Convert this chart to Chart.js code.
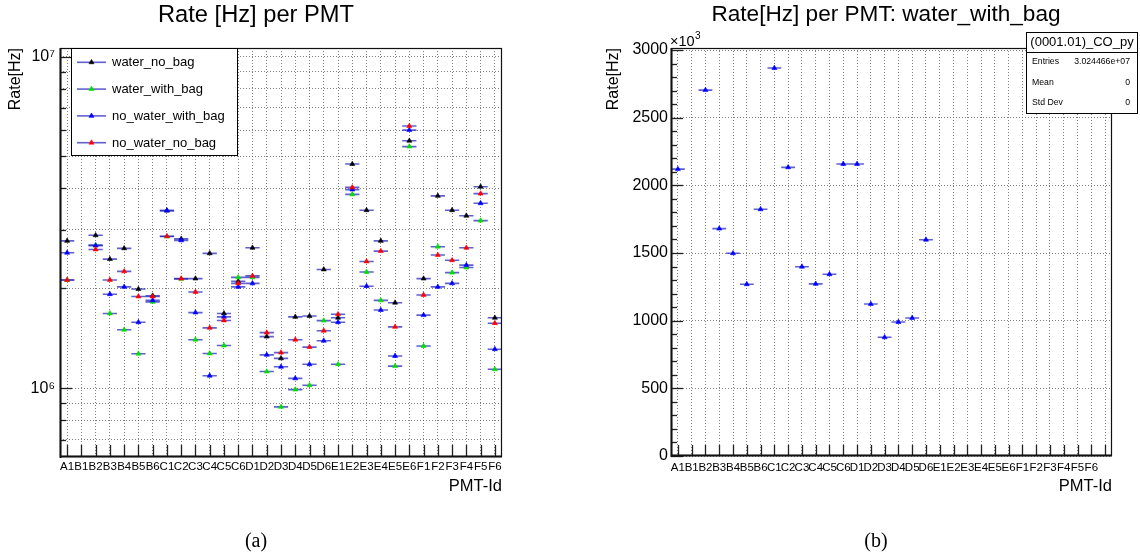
<!DOCTYPE html>
<html>
<head>
<meta charset="utf-8">
<title>Rate per PMT</title>
<script src="https://cdn.jsdelivr.net/npm/chart.js@4.4.1/dist/chart.umd.min.js"></script>
<style>
  html, body { margin: 0; padding: 0; background: #fff; }
  #page { position: relative; width: 1140px; height: 558px; overflow: hidden; font-family: "Liberation Sans", Arial, sans-serif; color: #000; }
  canvas { position: absolute; top: 0; }
  #cLeft { left: 0; }
  #cRight { left: 570px; }
  .title { position: absolute; top: 0; line-height: 28px; white-space: nowrap; transform: translateX(-50%); }
  .caption { position: absolute; top: 529px; font-family: "Liberation Serif", "Times New Roman", serif; font-size: 20px; transform: translateX(-50%); }
</style>
</head>
<body>
<div id="page">
  <canvas id="cLeft" width="570" height="558"></canvas>
  <canvas id="cRight" width="570" height="558"></canvas>
  <div class="title" style="left:256px;font-size:23.7px">Rate [Hz] per PMT</div>
  <div class="title" style="left:886px;font-size:22.6px">Rate[Hz] per PMT: water_with_bag</div>
  <div class="caption" style="left:256px">(a)</div>
  <div class="caption" style="left:876px">(b)</div>
</div>
<script>
const pmtLabels = ["A1","B1","B2","B3","B4","B5","B6","C1","C2","C3","C4","C5","C6",
                   "D1","D2","D3","D4","D5","D6","E1","E2","E3","E4","E5","E6",
                   "F1","F2","F3","F4","F5","F6"];

// rates in Hz, one entry per PMT (B1 has no reading)
const waterNoBag     = [2.78e6, null, 2.89e6, 2.45e6, 2.64e6, 1.99e6, 1.90e6,
                        3.43e6, 2.82e6, 2.14e6, 2.55e6, 1.68e6, 2.10e6,
                        2.65e6, 1.43e6, 1.23e6, 1.64e6, 1.65e6, 2.28e6,
                        1.63e6, 4.74e6, 3.44e6, 2.78e6, 1.81e6, 5.57e6,
                        2.14e6, 3.80e6, 3.44e6, 3.31e6, 4.05e6, 1.63e6];
const waterWithBag   = [2.12e6, null, 2.70e6, 1.68e6, 1.50e6, 1.27e6, 1.82e6,
                        2.865e6, 2.135e6, 1.40e6, 1.272e6, 1.345e6, 2.158e6,
                        2.158e6, 1.122e6, 0.878e6, 0.99e6, 1.02e6, 1.598e6,
                        1.18e6, 3.84e6, 2.24e6, 1.84e6, 1.165e6, 5.35e6,
                        1.34e6, 2.67e6, 2.23e6, 2.31e6, 3.20e6, 1.14e6];
const noWaterWithBag = [2.56e6, null, 2.69e6, 1.92e6, 2.02e6, 1.58e6, 1.84e6,
                        3.43e6, 2.79e6, 1.69e6, 1.09e6, 1.64e6, 2.02e6,
                        2.07e6, 1.26e6, 1.16e6, 1.07e6, 1.18e6, 1.39e6,
                        1.58e6, 3.97e6, 2.03e6, 1.72e6, 1.25e6, 6.00e6,
                        1.66e6, 2.02e6, 2.07e6, 2.35e6, 3.61e6, 1.31e6];
const noWaterNoBag   = [2.12e6, null, 2.62e6, 2.12e6, 2.25e6, 1.89e6, 1.89e6,
                        2.87e6, 2.14e6, 1.95e6, 1.52e6, 1.60e6, 2.07e6,
                        2.18e6, 1.47e6, 1.28e6, 1.40e6, 1.33e6, 1.49e6,
                        1.67e6, 4.03e6, 2.41e6, 2.59e6, 1.53e6, 6.17e6,
                        1.91e6, 2.52e6, 2.43e6, 2.65e6, 3.86e6, 1.57e6];

// panel (b): water_with_bag in units of 10^3 Hz, histogram has one extra empty bin
const bagLabels = pmtLabels.concat([""]);
const bagRate = [2120, null, 2704, 1680, 1498, 1269, 1823, 2867, 2133, 1399, 1272, 1343, 2158,
                 2158, 1123, 877, 990, 1020, 1598, null, null, null, null, null, null,
                 null, null, null, null, null, null, null];
const statsName = "(0001.01)_CO_py";
const statsRows = [["Entries", "3.024466e+07"], ["Mean", "0"], ["Std Dev", "0"]];

const series = [
  {label: "water_no_bag",      values: waterNoBag,     color: "#000000"},
  {label: "water_with_bag",    values: waterWithBag,   color: "#00dd00"},
  {label: "no_water_with_bag", values: noWaterWithBag, color: "#0000ff"},
  {label: "no_water_no_bag",   values: noWaterNoBag,   color: "#ff0000"}
];

const BAR = "rgba(35,35,190,0.72)";
const GRID = "rgba(80,80,80,0.72)";
Chart.defaults.font.family = '"Liberation Sans", Arial, Helvetica, sans-serif';
Chart.defaults.color = "#000";

function markerPoints(values){
    return values.flatMap((v, i) => v == null ? [] : [{x: i, y: v}]);
}
function barPoints(values){
    return values.flatMap((v, i) => v == null ? [] : [{x: i - 0.5, y: v}, {x: i + 0.5, y: v}, {x: i, y: null}]);
}
function seriesSets(list){
    let sets = [];
    list.forEach((s, k) => {
        sets.push({label: s.label + " bar", data: barPoints(s.values), showLine: true, spanGaps: false,
                   pointRadius: 0, borderColor: BAR, borderWidth: 1.6, order: 100 - 2 * k});
        sets.push({label: s.label, data: markerPoints(s.values), showLine: false, pointStyle: "triangle",
                   pointRadius: 2.9, backgroundColor: s.color, borderColor: s.color, borderWidth: 0.6,
                   order: 99 - 2 * k});
    });
    return sets;
}

function line(ctx, x1, y1, x2, y2){
    ctx.beginPath(); ctx.moveTo(x1, y1); ctx.lineTo(x2, y2); ctx.stroke();
}

// ROOT style frame, inner tick marks, legend / stats box
function makeDecor(cfg){
    return {
        id: "decor" + cfg.name,
        afterDraw(chart){
            const {ctx, chartArea: a, scales: {x, y}} = chart;
            ctx.save();
            ctx.strokeStyle = "#222";
            ctx.lineWidth = 1.3;
            x.ticks.forEach(t => {
                const px = Math.round(x.getPixelForValue(t.value)) + 0.5;
                line(ctx, px, a.bottom, px, a.bottom - cfg.xTick);
            });
            y.ticks.forEach(t => {
                const py = Math.round(y.getPixelForValue(t.value)) + 0.5;
                line(ctx, a.left, py, a.left + (cfg.isMajor(t.value) ? 12 : 6), py);
            });
            ctx.lineWidth = 1.2;
            ctx.strokeStyle = "#111";
            ctx.strokeRect(a.left + 0.5, a.top + 0.5, a.width - 1, a.height - 1);
            ctx.lineWidth = 2;
            line(ctx, a.left + 0.5, a.top, a.left + 0.5, a.bottom + 1);
            line(ctx, a.left, a.bottom - 0.5, a.right, a.bottom - 0.5);

            if (cfg.legend) {
                const lx = a.left + 11, ly = a.top, lw = 166, lh = 107;
                ctx.fillStyle = "#fff";
                ctx.fillRect(lx, ly, lw, lh);
                ctx.lineWidth = 1;
                ctx.strokeStyle = "#000";
                ctx.strokeRect(lx + 0.5, ly + 0.5, lw, lh);
                ctx.font = '13px "Liberation Sans", Arial, sans-serif';
                ctx.textBaseline = "middle";
                ctx.textAlign = "left";
                series.forEach((s, k) => {
                    const yy = ly + 14.3 + k * 26.8;
                    ctx.strokeStyle = BAR;
                    ctx.lineWidth = 1.6;
                    line(ctx, lx + 6, yy, lx + 35, yy);
                    ctx.fillStyle = s.color;
                    ctx.strokeStyle = s.color;
                    ctx.lineWidth = 0.6;
                    Chart.helpers.drawPoint(ctx, {pointStyle: "triangle", radius: 2.9, rotation: 0, borderWidth: 0.6}, lx + 20.5, yy);
                    ctx.fillStyle = "#000";
                    ctx.fillText(s.label, lx + 41, yy + 0.5);
                });
            }

            if (cfg.stats) {
                const bx = a.right - 86, by = a.top - 16, bw = 111, bh = 81;
                ctx.fillStyle = "#fff";
                ctx.fillRect(bx, by, bw, bh);
                ctx.strokeStyle = "#000";
                ctx.lineWidth = 1;
                ctx.strokeRect(bx + 0.5, by + 0.5, bw, bh);
                line(ctx, bx, by + 20.5, bx + bw, by + 20.5);
                ctx.fillStyle = "#000";
                ctx.textBaseline = "middle";
                ctx.textAlign = "center";
                ctx.font = '13px "Liberation Sans", Arial, sans-serif';
                ctx.fillText(statsName, bx + bw / 2 + 0.5, by + 10.5);
                ctx.font = '8.7px "Liberation Sans", Arial, sans-serif';
                statsRows.forEach((r, k) => {
                    const yy = by + 30 + k * 20.5;
                    ctx.textAlign = "left";
                    ctx.fillText(r[0], bx + 6, yy);
                    ctx.textAlign = "right";
                    ctx.fillText(r[1], bx + bw - 7, yy);
                });
            }

            if (cfg.exponent) {
                ctx.fillStyle = "#000";
                ctx.textAlign = "left";
                ctx.textBaseline = "alphabetic";
                ctx.font = '14.5px "Liberation Sans", Arial, sans-serif';
                ctx.fillText("\u00d710", a.left - 1, a.top - 2.5);
                const w = ctx.measureText("\u00d710").width;
                ctx.font = '10px "Liberation Sans", Arial, sans-serif';
                ctx.fillText(cfg.exponent, a.left - 1 + w + 0.5, a.top - 9.5);
            }
            ctx.restore();
        }
    };
}

function xScale(labels, height, pad){
    return {
        type: "linear", min: -0.5, max: labels.length - 0.5,
        afterBuildTicks: s => { s.ticks = labels.map((_, i) => ({value: i})); },
        afterFit: s => { s.height = height; s.paddingLeft = 0; s.paddingRight = 0; },
        ticks: {autoSkip: false, maxRotation: 0, minRotation: 0, padding: pad, font: {size: 11.5},
                callback: v => labels[v] ?? ""},
        grid: {color: GRID, lineWidth: 1, drawTicks: false},
        border: {display: false, dash: [1, 2]},
        title: {display: true, text: "PMT-Id", align: "end", font: {size: 16.5}, padding: {top: 0, bottom: 62}}
    };
}

const isPow10 = v => Math.abs(Math.log10(v) - Math.round(Math.log10(v))) < 1e-9;
const supers = {6: "\u2076", 7: "\u2077"};
let logTicks = [];
for (let e = 5; e <= 7; e++)
    for (let m = 1; m <= 9; m++)
        if (m * Math.pow(10, e) >= 6.2e5 && m * Math.pow(10, e) <= 1.061e7) logTicks.push(m * Math.pow(10, e));

new Chart(document.getElementById("cLeft"), {
    type: "scatter",
    data: {datasets: seriesSets(series)},
    options: {
        responsive: false, animation: false, events: [],
        layout: {padding: {left: 0, top: 48, right: 68, bottom: 0}},
        plugins: {legend: {display: false}, tooltip: {enabled: false}},
        scales: {
            x: xScale(pmtLabels, 101, 3),
            y: {
                type: "logarithmic", min: 6.2e5, max: 1.061e7,
                afterBuildTicks: s => { s.ticks = logTicks.map(v => ({value: v})); },
                afterFit: s => { s.width = 60; s.paddingTop = 0; s.paddingBottom = 0; },
                ticks: {autoSkip: false, padding: 5, font: {size: 16},
                        callback: v => isPow10(v) ? "10" + supers[Math.round(Math.log10(v))] : ""},
                grid: {color: GRID, lineWidth: 1, drawTicks: false},
                border: {display: false, dash: [1, 2]},
                title: {display: true, text: "Rate[Hz]", align: "end", font: {size: 16}, padding: {top: 6, bottom: 0}}
            }
        }
    },
    plugins: [makeDecor({name: "L", xTick: 12, isMajor: isPow10, legend: true})]
});

let bagTicks = [];
for (let v = 0; v <= 3000; v += 100) bagTicks.push(v);

new Chart(document.getElementById("cRight"), {
    type: "scatter",
    data: {datasets: seriesSets([{label: "water_with_bag", values: bagRate, color: "#0000ff"}])},
    options: {
        responsive: false, animation: false, events: [],
        layout: {padding: {left: 0, top: 48, right: 28, bottom: 0}},
        plugins: {legend: {display: false}, tooltip: {enabled: false}},
        scales: {
            x: xScale(bagLabels, 102, 5),
            y: {
                type: "linear", min: 0, max: 3015,
                afterBuildTicks: s => { s.ticks = bagTicks.map(v => ({value: v})); },
                afterFit: s => { s.width = 101; s.paddingTop = 0; s.paddingBottom = 0; },
                ticks: {autoSkip: false, padding: 3, font: {size: 16},
                        callback: v => v % 500 === 0 ? String(v) : ""},
                grid: {color: c => c.tick && c.tick.value % 500 === 0 ? GRID : "rgba(0,0,0,0)", lineWidth: 1, drawTicks: false},
                border: {display: false, dash: [1, 2]},
                title: {display: true, text: "Rate[Hz]", align: "end", font: {size: 16}, padding: {top: 34.4, bottom: 0}}
            }
        }
    },
    plugins: [makeDecor({name: "R", xTick: 11, isMajor: v => v % 500 === 0, stats: true, exponent: "3"})]
});
</script>
</body>
</html>
